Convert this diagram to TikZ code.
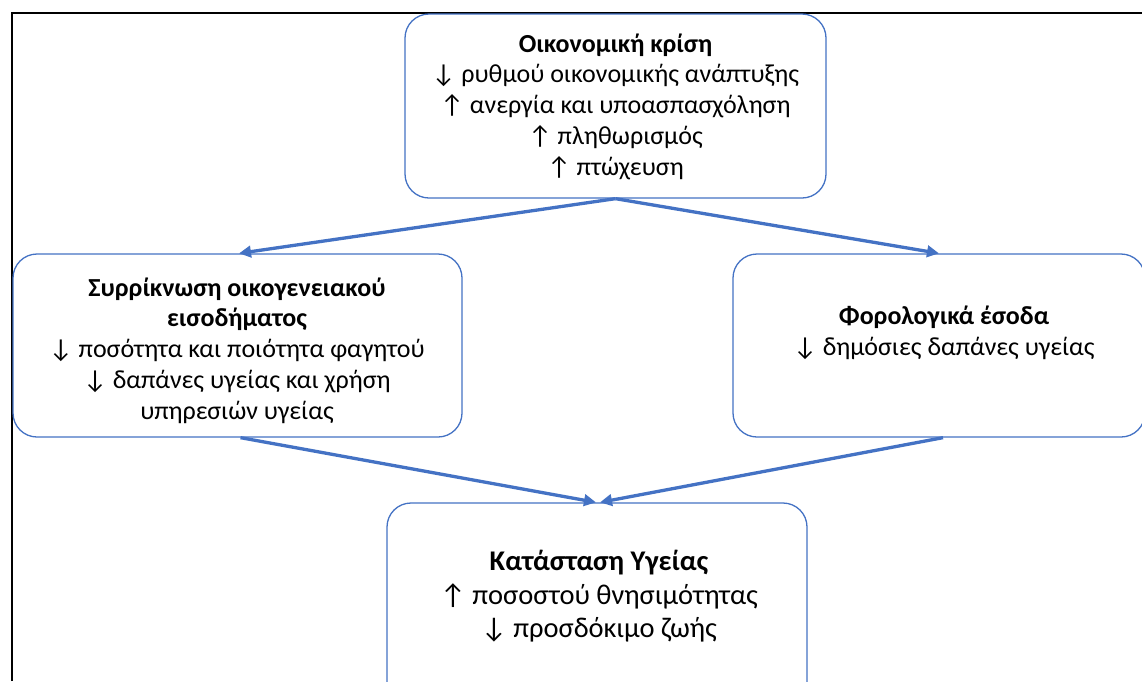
\documentclass[tikz,border=0pt]{standalone}
\usepackage{fontspec}
\setmainfont{Carlito}
\usetikzlibrary{arrows.meta,calc}
\definecolor{boxblue}{HTML}{4472C4}
\newcommand\arrdown{↓}
\newcommand\arrup{↑}
\begin{document}
\begin{tikzpicture}[x=1pt,y=-1pt,
  box/.style={draw=boxblue,line width=1.3pt,rounded corners=24pt,inner sep=0pt},
  txt/.style={align=center,inner sep=0pt,font=\fontsize{26}{30.7}\selectfont},
  bigtxt/.style={align=center,inner sep=0pt,font=\fontsize{28.5}{33.5}\selectfont},
  flow/.style={draw=boxblue,line width=3.3pt,-{Triangle[length=12pt,width=11.5pt]}}
]
\useasboundingbox (0,0) rectangle (1142,681);
\fill[white] (0,0) rectangle (1142,681);
\begin{scope}
\clip (0,0) rectangle (1142,681);
% page frame
\draw[line width=2.2pt] (12,681) -- (12,13) -- (1142,13);

% boxes
\node[box,minimum width=421pt,minimum height=184pt] (eco) at (615.5,106) {};
\node[box,minimum width=449pt,minimum height=183pt] (inc) at (237.5,345.5) {};
\node[box,minimum width=412pt,minimum height=183pt] (tax) at (939,345.5) {};
\node[box,minimum width=420pt,minimum height=217pt] (hlth) at (597,611.5) {};

% texts
\node[txt] (ecot) at (615.5,106.5) {\textbf{Οικονομική κρίση}\\
  \arrdown{} ρυθμού οικονομικής ανάπτυξης\\
  \arrup{} ανεργία και υποασπασχόληση\\
  \arrup{} πληθωρισμός\\
  \arrup{} πτώχευση};
\node[txt] (inct) at (237,350.5) {\textbf{Συρρίκνωση οικογενειακού}\\
  \textbf{εισοδήματος}\\
  \arrdown{} ποσότητα και ποιότητα φαγητού\\
  \arrdown{} δαπάνες υγείας και χρήση\\
  υπηρεσιών υγείας};
\node[txt] (taxt) at (944,332.5) {\textbf{Φορολογικά έσοδα}\\
  \arrdown{} δημόσιες δαπάνες υγείας};
\node[bigtxt] (hltht) at (599,596.5) {\textbf{Κατάσταση Υγείας}\\
  \arrup{} ποσοστού θνησιμότητας\\
  \arrdown{} προσδόκιμο ζωής};

% connectors
\draw[flow] (eco.south) -- ($(inc.north)+(1.5,0)$);
\draw[flow] (eco.south) -- (tax.north);
\draw[flow] ($(inc.south)+(3,0)$) -- ($(hlth.north)+(-1,0)$);
\draw[flow] ($(tax.south)+(4,0)$) -- ($(hlth.north)+(3,0)$);
\end{scope}
\end{tikzpicture}
\end{document}
